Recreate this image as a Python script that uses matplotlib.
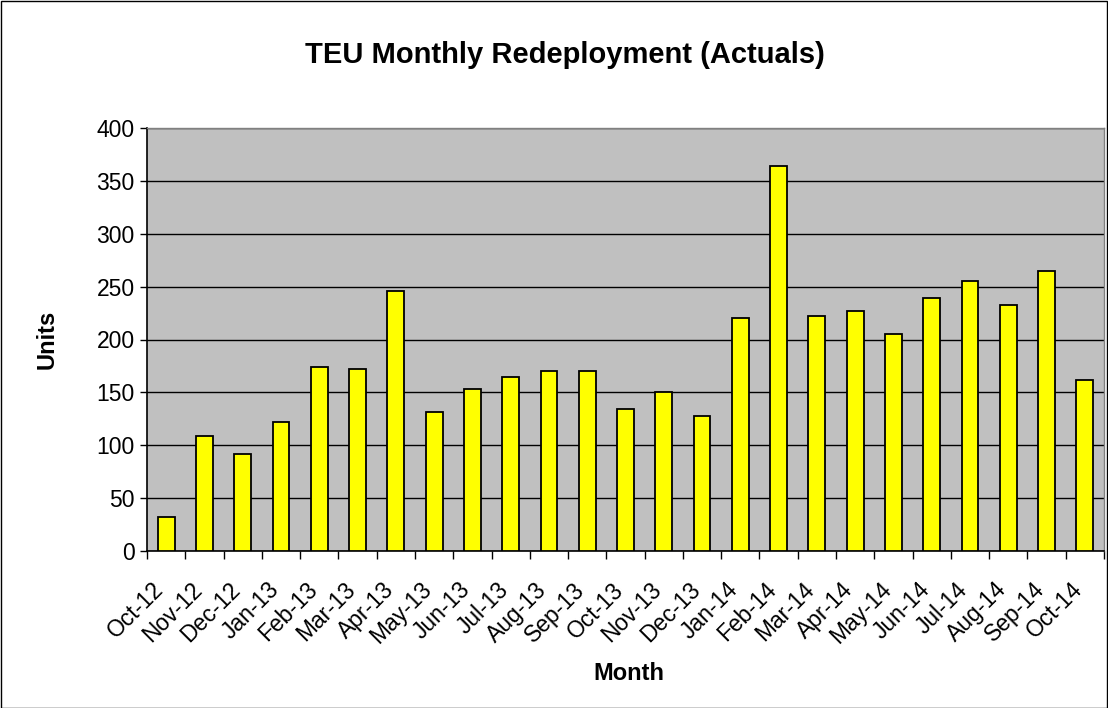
import matplotlib
matplotlib.use("Agg")
import matplotlib.pyplot as plt
from matplotlib.patches import Rectangle
import numpy as np

months = ["Oct-12", "Nov-12", "Dec-12", "Jan-13", "Feb-13", "Mar-13", "Apr-13",
          "May-13", "Jun-13", "Jul-13", "Aug-13", "Sep-13", "Oct-13", "Nov-13",
          "Dec-13", "Jan-14", "Feb-14", "Mar-14", "Apr-14", "May-14", "Jun-14",
          "Jul-14", "Aug-14", "Sep-14", "Oct-14"]
units = [32, 109, 92, 122, 174, 172, 246, 131, 153, 165, 170, 170, 134, 150,
         128, 220, 364, 222, 227, 205, 239, 255, 233, 265, 162]
yticks = [0, 50, 100, 150, 200, 250, 300, 350, 400]

plt.rcParams['font.family'] = ['Liberation Sans', 'DejaVu Sans']

W, H = 1108, 708
fig = plt.figure(figsize=(W / 100, H / 100), dpi=100)
fig.patches.append(Rectangle((0.5 / W, 0.5 / H), 1 - 1.5 / W, 1 - 1.5 / H,
                             transform=fig.transFigure, fill=False,
                             edgecolor='black', linewidth=1))

ax = fig.add_axes([147 / W, 1 - 551 / H, (1104 - 147) / W, (551 - 128) / H])
ax.set_facecolor('#C0C0C0')

x = np.arange(len(months))
ax.bar(x, units, width=0.44, color='#FFFF00', edgecolor='black', linewidth=1.3, zorder=3)

ax.set_xlim(-0.5, len(months) - 0.5)
ax.set_ylim(0, 400)
ax.set_yticks(yticks)
ax.set_yticklabels([str(v) for v in yticks], fontsize=16.5)
ax.yaxis.grid(True, color='black', linewidth=1, zorder=1)
ax.set_axisbelow(True)

# category labels (rotated), anchored at their top-right end just below each category
ax.set_xticks(x)
ax.set_xticklabels([])
ax.tick_params(axis='x', which='major', length=0)
for xi, lab in zip(x, months):
    ax.annotate(lab, xy=(xi, 0), xycoords=ax.get_xaxis_transform(),
                xytext=(-10, -19.5), textcoords='offset points',
                rotation=45, ha='right', va='top', rotation_mode='anchor',
                fontsize=16.5, annotation_clip=False)
ax.set_xticks(np.arange(len(months) + 1) - 0.5, minor=True)
ax.tick_params(axis='x', which='minor', length=6, width=1, color='black', direction='out')
ax.tick_params(axis='y', length=5, width=1, color='black', direction='out', pad=4)

for s in ['top', 'right']:
    ax.spines[s].set_color('#808080')
    ax.spines[s].set_linewidth(1)
for s in ['left', 'bottom']:
    ax.spines[s].set_color('black')
    ax.spines[s].set_linewidth(1.2)

fig.text(565 / W, 1 - 55 / H, "TEU Monthly Redeployment (Actuals)", ha='center', va='center',
         fontsize=21, fontweight='bold')
fig.text(47 / W, 1 - 339 / H, "Units", ha='center', va='center', rotation=90,
         fontsize=17, fontweight='bold')
fig.text(629 / W, 1 - 673 / H, "Month", ha='center', va='center',
         fontsize=17, fontweight='bold')

fig.savefig("out.png", dpi=100)
